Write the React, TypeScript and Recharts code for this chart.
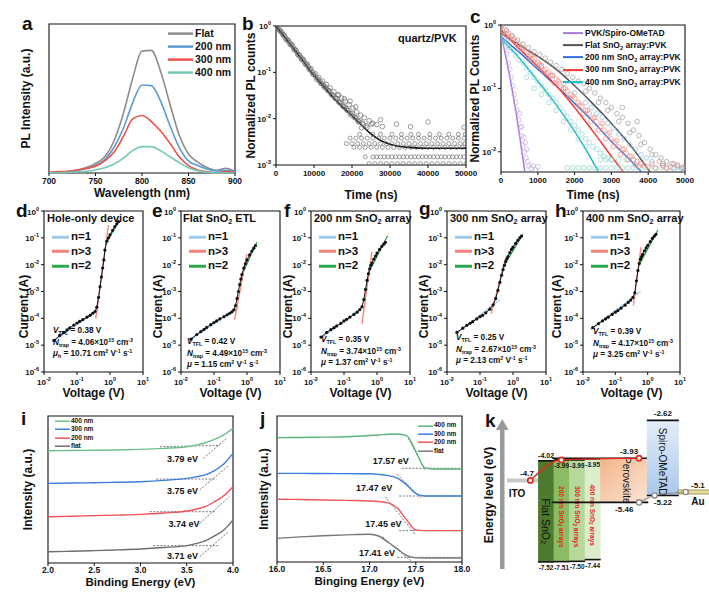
import React from "react";
import {
  ComposedChart,
  Line,
  Scatter,
  Bar,
  XAxis,
  YAxis,
  Legend,
  Label,
  ReferenceArea,
  ReferenceDot,
} from "recharts";

const FONT = '"Liberation Sans", Arial, Helvetica, sans-serif';
const INK = "#111";

// ---------- a: steady-state PL ----------
const wavelength = [700, 710, 720, 730, 740, 750, 760, 770, 780, 790, 800, 810, 820, 830, 840, 850, 860, 870, 880, 890, 900];
const plFlat = [0, 0.005, 0.01, 0.02, 0.04, 0.07, 0.12, 0.24, 0.44, 0.7, 0.9, 0.905, 0.75, 0.51, 0.28, 0.14, 0.08, 0.04, 0.02, 0.035, 0.01];
const pl200 = [0, 0.005, 0.01, 0.017, 0.033, 0.055, 0.1, 0.19, 0.33, 0.52, 0.65, 0.645, 0.53, 0.35, 0.19, 0.09, 0.055, 0.03, 0.015, 0.02, 0.01];
const pl300 = [0.005, 0.01, 0.013, 0.022, 0.033, 0.05, 0.09, 0.155, 0.27, 0.4, 0.425, 0.38, 0.31, 0.22, 0.12, 0.055, 0.022, 0.01, 0, 0.01, 0.005];
const pl400 = [0, 0.002, 0.005, 0.009, 0.013, 0.022, 0.038, 0.066, 0.11, 0.165, 0.195, 0.195, 0.165, 0.12, 0.077, 0.038, 0.016, 0.006, 0, 0, 0];
const aNames = ["Flat", "200 nm", "300 nm", "400 nm"];
const aTicks = [700, 750, 800, 850, 900];

// ---------- b: TRPL quartz/PVK ----------
const bFit = [[0, 1], [2500, 0.55], [5000, 0.3], [7500, 0.16], [10000, 0.086], [12500, 0.05], [15000, 0.029], [17500, 0.018], [20000, 0.0117], [22500, 0.0073], [25000, 0.0047], [27500, 0.0034], [30000, 0.0028], [32500, 0.0025], [35000, 0.0024], [40000, 0.0023], [45000, 0.0023], [50000, 0.0023]];
const bDecay = [
  [0, 1], [500, 0.9], [1000, 0.8], [1500, 0.72], [2000, 0.64], [2500, 0.55], [3000, 0.5], [3500, 0.44], [4000, 0.4], [4500, 0.35], [5000, 0.31], [5500, 0.27], [6000, 0.24], [6500, 0.21], [7000, 0.19], [7500, 0.165], [8000, 0.145], [8500, 0.13], [9000, 0.115], [9500, 0.1], [10000, 0.09], [10500, 0.08], [11000, 0.072], [11500, 0.064], [12000, 0.058], [12500, 0.052], [13000, 0.048], [13500, 0.042], [14000, 0.04], [14500, 0.034], [15000, 0.032], [15500, 0.028], [16000, 0.027], [16500, 0.023], [17000, 0.022], [17500, 0.019], [18000, 0.018], [18500, 0.016], [19000, 0.015], [19500, 0.013], [20000, 0.013], [20500, 0.011], [21000, 0.0105], [21500, 0.009], [22000, 0.009], [23000, 0.0075], [24000, 0.0065],
  [250, 0.93], [750, 0.82], [1250, 0.78], [1750, 0.66], [2250, 0.62], [2750, 0.5], [3250, 0.49], [3750, 0.4], [4250, 0.39], [4750, 0.31], [5250, 0.3], [5750, 0.24], [6250, 0.23], [6750, 0.19], [7250, 0.19], [7750, 0.15], [8250, 0.15], [8750, 0.115], [9250, 0.12], [9750, 0.09], [10250, 0.095], [10750, 0.07], [11250, 0.078], [11750, 0.058], [12250, 0.065], [12750, 0.048], [13250, 0.055], [13750, 0.04], [14250, 0.046], [14750, 0.032], [15250, 0.038], [15750, 0.027], [16250, 0.033], [16750, 0.022], [17250, 0.028], [17750, 0.018], [18250, 0.024], [18750, 0.015], [19250, 0.02], [19750, 0.012], [20250, 0.017], [20750, 0.0105], [21250, 0.014], [21750, 0.0085], [22250, 0.012], [22750, 0.008], [23250, 0.0105], [23750, 0.007], [24500, 0.009], [25500, 0.008], [26500, 0.0075], [28000, 0.0068],
  [16500, 0.032], [18000, 0.027], [19500, 0.024], [21000, 0.018], [25200, 0.0076], [27500, 0.0095], [31700, 0.0076], [35400, 0.0067], [40000, 0.0085], [49500, 0.0065], [22500, 0.0063],
];
const bFloorLevels = [0.0046, 0.0038, 0.0029, 0.0024, 0.0015, 0.00107];
const bFloorTimes = [
  [22000, 25500, 27500, 30500, 33000, 35500, 37500, 40500, 43000, 45500, 48000, 49800],
  [19500, 21000, 22500, 24000, 25500, 27000, 28500, 30000, 31500, 33000, 34500, 36000, 37500, 39000, 40500, 42000, 43500, 45000, 46500, 48000, 49500],
  [18500, 20000, 21500, 23000, 24500, 26000, 27500, 29000, 30500, 32000, 33500, 35000, 36500, 38000, 39500, 41000, 42500, 44000, 45500, 47000, 48500, 49800],
  [20500, 22000, 23500, 25000, 26500, 28000, 29500, 31000, 32500, 34000, 35500, 37000, 38500, 40000, 41500, 43000, 44500, 46000, 47500, 49000],
  [23500, 25500, 26500, 27500, 28500, 29500, 30500, 31500, 32500, 33500, 34500, 35500, 36500, 37500, 38500, 39500, 40500, 41500, 42500, 43500, 44500, 45500, 46500, 47500, 48500, 49500],
  [24500, 26000, 27500, 29000, 30500, 32000, 33500, 35000, 36500, 38000, 39500, 41000, 42500, 44000, 45500, 47000, 48500, 50000],
];
const bTimeTicks = [0, 10000, 20000, 30000, 40000, 50000];
const bCountTicks = [0.001, 0.01, 0.1, 1];

// ---------- c: TRPL with transport layers ----------
const cNames = ["PVK/Spiro-OMeTAD", "Flat SnO2 array:PVK", "200 nm SnO2 array:PVK", "300 nm SnO2 array:PVK", "400 nm SnO2 array:PVK"];
const cSpiroFit = [[0, 0.72], [200, 0.2], [400, 0.045], [600, 0.0075], [650, 0.0048]];
const cFlatFit = [[0, 0.74], [500, 0.48], [1000, 0.32], [1500, 0.2], [2000, 0.11], [2500, 0.057], [3000, 0.028], [3500, 0.013], [4050, 0.0048]];
const c200Fit = [[0, 0.65], [500, 0.37], [1000, 0.2], [1500, 0.11], [2000, 0.058], [2500, 0.03], [3000, 0.0145], [3500, 0.0075], [3820, 0.0048]];
const c300Fit = [[0, 0.83], [500, 0.42], [1000, 0.22], [1500, 0.11], [2000, 0.05], [2500, 0.021], [3000, 0.0085], [3325, 0.0048]];
const c400Fit = [[0, 0.6], [500, 0.3], [1000, 0.13], [1500, 0.055], [2000, 0.021], [2300, 0.011], [2650, 0.0048]];
const cSpiroDots = [[0, 1], [40, 0.75], [80, 0.6], [120, 0.45], [160, 0.35], [200, 0.25], [240, 0.2], [280, 0.15], [320, 0.11], [360, 0.08], [400, 0.06], [440, 0.045], [480, 0.032], [520, 0.024], [560, 0.018], [600, 0.013], [640, 0.01], [680, 0.008], [720, 0.007], [760, 0.006], [820, 0.0055], [880, 0.006], [940, 0.0052], [1000, 0.0058], [500, 0.04], [560, 0.025], [620, 0.017], [700, 0.011], [660, 0.014]];
const cFlatDots = [[0, 1], [150, 0.82], [300, 0.68], [450, 0.58], [600, 0.5], [750, 0.44], [900, 0.38], [1050, 0.34], [1200, 0.3], [1350, 0.26], [1500, 0.23], [1650, 0.2], [1800, 0.17], [1950, 0.15], [2100, 0.13], [2250, 0.12], [2400, 0.1], [2550, 0.085], [2700, 0.07], [2850, 0.06], [3000, 0.05], [3150, 0.04], [3300, 0.035], [3450, 0.028], [3600, 0.022], [3750, 0.018], [3900, 0.014], [4050, 0.011], [4200, 0.009], [4350, 0.008], [4500, 0.007], [4650, 0.0065], [4800, 0.006], [4950, 0.0055], [2300, 0.09], [2650, 0.06], [2900, 0.045], [3200, 0.03], [3500, 0.02], [3800, 0.013], [4100, 0.009], [4400, 0.0065], [3300, 0.05], [3700, 0.03]];
const c200Dots = [[200, 0.6], [500, 0.42], [800, 0.3], [1100, 0.22], [1400, 0.16], [1700, 0.12], [2000, 0.085], [2300, 0.06], [2600, 0.04], [2900, 0.028], [3200, 0.019], [3500, 0.013], [3800, 0.009], [4100, 0.007], [4400, 0.006], [4700, 0.0055], [5000, 0.0052], [2450, 0.05], [2750, 0.035], [3050, 0.024], [3350, 0.016], [3650, 0.011], [3950, 0.008]];
const c300Dots = [[0, 0.95], [100, 0.85], [200, 0.75], [300, 0.65], [400, 0.55], [500, 0.5], [600, 0.44], [700, 0.38], [800, 0.33], [900, 0.3], [1000, 0.26], [1100, 0.23], [1200, 0.2], [1300, 0.18], [1400, 0.16], [1500, 0.14], [1600, 0.12], [1700, 0.1], [1800, 0.09], [1900, 0.08], [2000, 0.07], [2100, 0.06], [2200, 0.052], [2300, 0.045], [2400, 0.04], [2500, 0.034], [2600, 0.03], [2700, 0.025], [2800, 0.022], [2900, 0.019], [3000, 0.016], [3100, 0.014], [3200, 0.012], [3300, 0.011], [3400, 0.0095], [3500, 0.0085], [3600, 0.0075], [3700, 0.007], [3800, 0.0065], [3900, 0.006], [4000, 0.0058], [4200, 0.0055], [4400, 0.006], [4600, 0.0058], [4800, 0.0062], [5000, 0.006],
  [50, 0.8], [150, 0.72], [250, 0.62], [350, 0.6], [450, 0.48], [550, 0.42], [650, 0.4], [750, 0.32], [850, 0.3], [950, 0.25], [1050, 0.24], [1150, 0.19], [1250, 0.17], [1350, 0.16], [1450, 0.12], [1550, 0.13], [1650, 0.095], [1750, 0.1], [1850, 0.07], [1950, 0.075], [2050, 0.05], [2150, 0.055], [2250, 0.04], [2350, 0.045], [2450, 0.03], [2550, 0.035], [2650, 0.022], [2750, 0.028], [2850, 0.016], [2950, 0.02], [3050, 0.012], [3150, 0.015], [3250, 0.009], [3350, 0.011], [3450, 0.0075], [3550, 0.0085], [3650, 0.0062], [3750, 0.006], [4100, 0.0065], [4300, 0.007], [4500, 0.0055], [4700, 0.0065], [4900, 0.0055]];
const c400Dots = [[0, 0.7], [100, 0.55], [200, 0.45], [300, 0.4], [400, 0.33], [500, 0.28], [600, 0.25], [700, 0.21], [800, 0.18], [900, 0.15], [1000, 0.13], [1100, 0.11], [1200, 0.095], [1300, 0.08], [1400, 0.07], [1500, 0.06], [1600, 0.05], [1700, 0.042], [1800, 0.036], [1900, 0.03], [2000, 0.026], [2100, 0.022], [2200, 0.019], [2300, 0.016], [2400, 0.014], [2500, 0.012], [2600, 0.011], [2700, 0.0095], [2800, 0.0085], [2900, 0.008], [3000, 0.0075],
  [700, 0.15], [900, 0.1], [1100, 0.08], [1300, 0.06], [1500, 0.045], [1700, 0.03], [1900, 0.022], [2100, 0.016], [2300, 0.012],
  [1800, 0.0056], [1950, 0.0056], [2100, 0.0056], [2250, 0.0056], [2400, 0.0056], [2550, 0.0056], [2700, 0.0056], [2850, 0.0056], [3000, 0.0056], [3150, 0.0056], [3300, 0.0056], [3450, 0.0056], [3600, 0.0056], [3750, 0.0056], [3900, 0.0056], [4050, 0.0056], [4200, 0.0056], [4350, 0.0056], [4500, 0.0056], [4650, 0.0056], [4800, 0.0056], [4950, 0.0056],
  [2700, 0.0075], [2850, 0.0075], [3000, 0.0075], [3200, 0.0075], [3400, 0.0075], [3600, 0.0075]];
const cTimeTicks = [0, 1000, 2000, 3000, 4000, 5000];
const cCountTicks = [0.01, 0.1, 1];

// ---------- d-h: SCLC J-V ----------
const jvVolt = [0.02, 0.03, 0.04, 0.05, 0.06, 0.08, 0.1, 0.12, 0.15, 0.2, 0.25, 0.3, 0.35, 0.4, 0.45, 0.5, 0.55, 0.6, 0.65, 0.7, 0.8, 0.9, 1.0, 1.2, 1.4, 1.6, 1.8];
const dCurrent = [1.5e-5, 2.3e-5, 3e-5, 3.7e-5, 4.4e-5, 5.6e-5, 6.7e-5, 7.7e-5, 9e-5, 1.1e-4, 1.3e-4, 1.55e-4, 1.8e-4, 2.6e-4, 6e-4, 1.5e-3, 3.5e-3, 7.5e-3, 1.5e-2, 3.5e-2, 7.5e-2, 1e-1, 1.3e-1, 1.9e-1, 2.6e-1, 3.3e-1, 4e-1];
const eCurrent = [1.7e-5, 2.5e-5, 3.2e-5, 3.9e-5, 4.6e-5, 5.8e-5, 7e-5, 8e-5, 9.5e-5, 1.15e-4, 1.35e-4, 1.55e-4, 1.75e-4, 2.05e-4, 3e-4, 5.5e-4, 1e-3, 1.8e-3, 2.9e-3, 4.3e-3, 7.5e-3, 1.1e-2, 1.5e-2, 2.3e-2, 3.2e-2, 4.1e-2, 5.1e-2];
const fCurrent = [2e-5, 3e-5, 3.8e-5, 4.5e-5, 5.2e-5, 6.5e-5, 8e-5, 9.2e-5, 1.1e-4, 1.4e-4, 1.7e-4, 2.1e-4, 2.7e-4, 5e-4, 1.2e-3, 2.6e-3, 4.6e-3, 7e-3, 9.5e-3, 1.15e-2, 1.6e-2, 2.1e-2, 2.7e-2, 3.7e-2, 4.8e-2, 5.8e-2, 6.8e-2];
const gCurrent = [3e-5, 4.3e-5, 5.5e-5, 6.5e-5, 7.5e-5, 9.5e-5, 1.15e-4, 1.3e-4, 1.6e-4, 2.2e-4, 3.2e-4, 5.5e-4, 1.1e-3, 2.2e-3, 4e-3, 6.5e-3, 9.5e-3, 1.3e-2, 1.65e-2, 2e-2, 2.8e-2, 3.7e-2, 4.5e-2, 6.2e-2, 8e-2, 1e-1, 1.15e-1];
const hCurrent = [4.5e-5, 6.3e-5, 8e-5, 9.5e-5, 1.1e-4, 1.4e-4, 1.7e-4, 1.95e-4, 2.4e-4, 3.1e-4, 3.9e-4, 4.8e-4, 6e-4, 9e-4, 2.5e-3, 6e-3, 1.1e-2, 1.6e-2, 2e-2, 2.4e-2, 3.3e-2, 4.2e-2, 5.2e-2, 7.2e-2, 9.5e-2, 1.15e-1, 1.35e-1];
const dFitN1 = [[0.018, 1.35e-5], [0.45, 2.1e-4]];
const dFitN3 = [[0.37, 1e-4], [0.9, 0.3]];
const dFitN2 = [[0.72, 0.055], [1.8, 0.4]];
const eFitN1 = [[0.018, 1.5e-5], [0.55, 2.6e-4]];
const eFitN3 = [[0.42, 9e-5], [1.0, 2.5e-2]];
const eFitN2 = [[0.8, 6e-3], [2.0, 7e-2]];
const fFitN1 = [[0.02, 1.8e-5], [0.42, 2.8e-4]];
const fFitN3 = [[0.35, 6e-5], [0.7, 3e-2]];
const fFitN2 = [[0.6, 6e-3], [2.1, 0.12]];
const gFitN1 = [[0.018, 2.5e-5], [0.4, 5e-4]];
const gFitN3 = [[0.22, 1.5e-4], [0.6, 1.8e-2]];
const gFitN2 = [[0.5, 8e-3], [2.0, 0.14]];
const hFitN1 = [[0.017, 3.8e-5], [0.6, 1e-3]];
const hFitN3 = [[0.36, 3e-4], [0.62, 4.5e-2]];
const hFitN2 = [[0.55, 1e-2], [2.1, 0.2]];
const jvNames = ["n=1", "n>3", "n=2"];
const jvTitles = ["Hole-only device", "Flat SnO2 ETL", "200 nm SnO2 array", "300 nm SnO2 array", "400 nm SnO2 array"];
const jvVtfl = ["0.38", "0.42", "0.35", "0.25", "0.39"];
const jvNtrap = ["4.06", "4.49", "3.74", "2.67", "4.17"];
const jvMu = ["10.71", "1.15", "1.37", "2.13", "3.25"];
const jvVTicks = [0.01, 0.1, 1, 10];
const jvITicks = [1e-6, 1e-5, 1e-4, 1e-3, 1e-2, 1e-1, 1];

// ---------- i: UPS cut-on ----------
const upsNames = ["400 nm", "300 nm", "200 nm", "flat"];
const iEnergy = [2.0, 2.25, 2.5, 2.75, 3.0, 3.25, 3.5, 3.6, 3.7, 3.8, 3.9, 4.0];
const i400 = [0.764, 0.765, 0.767, 0.769, 0.773, 0.78, 0.791, 0.802, 0.818, 0.841, 0.871, 0.916];
const i300 = [0.542, 0.544, 0.546, 0.549, 0.553, 0.562, 0.576, 0.586, 0.599, 0.628, 0.673, 0.746];
const i200 = [0.315, 0.318, 0.322, 0.326, 0.331, 0.34, 0.354, 0.366, 0.383, 0.417, 0.458, 0.519];
const iFlat = [0.077, 0.08, 0.084, 0.089, 0.095, 0.105, 0.118, 0.132, 0.15, 0.184, 0.224, 0.293];
const iGuides = [
  [[3.21, 0.791], [3.86, 0.8]], [[3.68, 0.712], [3.93, 0.848]],
  [[3.17, 0.571], [3.82, 0.571]], [[3.64, 0.497], [3.96, 0.667]],
  [[3.1, 0.349], [3.82, 0.349]], [[3.64, 0.27], [3.96, 0.451]],
  [[3.14, 0.118], [3.84, 0.118]], [[3.64, 0.043], [3.95, 0.213]],
];
const iOnsets = ["3.79 eV", "3.75 eV", "3.74 eV", "3.71 eV"];
const iOnsetAt = [[3.454, 0.707], [3.454, 0.49], [3.47, 0.265], [3.454, 0.051]];
const iTicks = [2.0, 2.5, 3.0, 3.5, 4.0];

// ---------- j: UPS cut-off ----------
const jEnergy = [16.0, 16.25, 16.5, 16.75, 17.0, 17.1, 17.2, 17.3, 17.4, 17.5, 17.6, 17.7, 17.85, 18.0];
const j400 = [0.852, 0.853, 0.855, 0.858, 0.866, 0.87, 0.875, 0.877, 0.865, 0.76, 0.645, 0.637, 0.637, 0.637];
const j300 = [0.607, 0.607, 0.606, 0.605, 0.604, 0.6, 0.592, 0.575, 0.53, 0.47, 0.452, 0.452, 0.452, 0.452];
const j200 = [0.43, 0.428, 0.425, 0.422, 0.418, 0.414, 0.405, 0.37, 0.29, 0.22, 0.215, 0.215, 0.215, 0.215];
const jFlat = [0.162, 0.172, 0.18, 0.186, 0.19, 0.178, 0.135, 0.09, 0.045, 0.028, 0.027, 0.027, 0.027, 0.027];
const jGuides = [
  [[17.35, 0.642], [17.99, 0.642]], [[17.42, 0.847], [17.6, 0.63]],
  [[17.32, 0.452], [18.0, 0.452]], [[17.3, 0.6], [17.55, 0.44]],
  [[17.32, 0.215], [18.0, 0.215]], [[17.17, 0.447], [17.5, 0.185]],
  [[17.3, 0.032], [18.0, 0.032]], [[17.14, 0.173], [17.46, 0.002]],
];
const jOnsets = ["17.57 eV", "17.47 eV", "17.45 eV", "17.41 eV"];
const jOnsetAt = [[17.23, 0.694], [17.05, 0.507], [17.15, 0.26], [17.08, 0.066]];
const jTicks = [16.0, 16.5, 17.0, 17.5, 18.0];

// ---------- k: energy levels ----------
const kLayers = ["ITO", "Flat SnO2", "200 nm SnO2 arrays", "300 nm SnO2 arrays", "400 nm SnO2 arrays", "Perovskite", "Spiro-OMeTAD", "Au"];
const kTop = [-4.7, -4.02, -3.99, -3.99, -3.95, -3.93, -2.62, -5.1];
const kBottom = [-4.7, -7.52, -7.51, -7.5, -7.44, -5.46, -5.22, -5.1];

// ---------- helpers ----------
const toXY = (pts: number[][]) => pts.map(([x, y]) => ({ x, y }));
const tickFont = { fontSize: 8.5, fontWeight: "bold", fill: INK, fontFamily: FONT };

const xTitle = (text: string, dist: number, size = 12) => (p: any) => {
  const vb = p.viewBox || {};
  return (
    <text x={vb.x + vb.width / 2} y={vb.y + dist} textAnchor="middle" fontSize={size} fontWeight="bold" fontFamily={FONT} fill={INK}>
      {text}
    </text>
  );
};
const yTitle = (text: string, dist: number, shift = 0, size = 12) => (p: any) => {
  const vb = p.viewBox || {};
  const cx = vb.x + vb.width - dist;
  const cy = vb.y + vb.height / 2 + shift;
  return (
    <text transform={`translate(${cx},${cy}) rotate(-90)`} textAnchor="middle" dominantBaseline="central" fontSize={size} fontWeight="bold" fontFamily={FONT} fill={INK}>
      {text}
    </text>
  );
};

const PowTickY = (p: any) => {
  const e = Math.round(Math.log10(p.payload.value));
  return (
    <text x={p.x} y={p.y} dy={3} textAnchor="end" fontSize={8} fontWeight="bold" fontFamily={FONT} fill={INK}>
      10<tspan dy={-4} fontSize={5.5}>{e}</tspan>
    </text>
  );
};
const PowTickX = (p: any) => {
  const e = Math.round(Math.log10(p.payload.value));
  return (
    <text x={p.x} y={p.y} dy={8} textAnchor="middle" fontSize={8} fontWeight="bold" fontFamily={FONT} fill={INK}>
      10<tspan dy={-4} fontSize={5.5}>{e}</tspan>
    </text>
  );
};

const subStyle: React.CSSProperties = { fontSize: "0.65em", verticalAlign: "-0.3em", lineHeight: 0 };
const supStyle: React.CSSProperties = { fontSize: "0.65em", verticalAlign: "0.5em", lineHeight: 0 };
const chem = (s: string) => {
  const parts = s.split("SnO2");
  const out: React.ReactNode[] = [];
  parts.forEach((p, k) => {
    if (k > 0) out.push(<span key={"s" + k}>SnO<sub style={subStyle}>2</sub></span>);
    out.push(<span key={"t" + k}>{p}</span>);
  });
  return out;
};
const svgChem = (s: string) => {
  const parts = s.split("SnO2");
  if (parts.length < 2) return s;
  return (
    <>
      {parts[0]}SnO<tspan dy={2} fontSize="70%">2</tspan>
      <tspan dy={-2}>{parts[1]}</tspan>
    </>
  );
};

// legend rows in a fixed order, only the named series
const legendBox = (o: { order: string[]; row: number; line: number; sw: number; font: number; gap?: number }) => (props: any) => {
  const items = o.order.map((name) => (props.payload || []).find((p: any) => p.value === name)).filter(Boolean);
  return (
    <div style={{ fontFamily: FONT, fontWeight: "bold", fontSize: o.font, color: INK }}>
      {items.map((p: any) => (
        <div key={p.value} style={{ display: "flex", alignItems: "center", height: o.row, whiteSpace: "nowrap" }}>
          <svg width={o.line} height={o.row} style={{ display: "block" }}>
            <line x1={0} x2={o.line} y1={o.row / 2} y2={o.row / 2} stroke={p.color} strokeWidth={o.sw} />
          </svg>
          <span style={{ marginLeft: o.gap ?? 2, lineHeight: 1 }}>{chem(String(p.value))}</span>
        </div>
      ))}
    </div>
  );
};

const ring = (color: string, r = 2.2) => (p: any) =>
  p.cx == null ? <g /> : <circle cx={p.cx} cy={p.cy} r={r} fill="none" stroke={color} strokeWidth={0.7} />;
const blackDot = (p: any) => (p.cx == null ? <g /> : <circle cx={p.cx} cy={p.cy} r={1.6} fill={INK} />);

const frame = (x1: number, x2: number, y1: number, y2: number) => (
  <ReferenceArea x1={x1} x2={x2} y1={y1} y2={y2} fill="none" stroke={INK} strokeWidth={1.1} ifOverflow="visible" />
);

// HTML text placed by baseline
const Txt = ({ left, base, size, children, style }: any) => (
  <div style={{ position: "absolute", left, top: base - 0.83 * size, fontSize: size, lineHeight: `${size}px`, fontFamily: FONT, fontWeight: "bold", color: INK, whiteSpace: "nowrap", ...style }}>
    {children}
  </div>
);

// ---------- panels ----------
function PanelA() {
  const data = wavelength.map((x, k) => ({ x, flat: plFlat[k], n200: pl200[k], n300: pl300[k], n400: pl400[k] }));
  return (
    <div style={{ position: "absolute", left: 0, top: 14 }}>
      <ComposedChart width={245} height={189} data={data} margin={{ top: 10, right: 10, left: 0, bottom: 0 }}>
        <XAxis dataKey="x" type="number" domain={[700, 900]} ticks={aTicks} allowDataOverflow height={30} axisLine={false} tickSize={3} tickLine={{ stroke: INK }} tick={tickFont}>
          <Label content={xTitle("Wavelength (nm)", 24)} />
        </XAxis>
        <YAxis type="number" domain={[0, 1.1]} ticks={[0, 0.1, 0.2, 0.3, 0.4, 0.5, 0.6, 0.7, 0.8, 0.9, 1.0]} width={49} axisLine={false} tick={false} tickSize={3} tickLine={{ stroke: INK }}>
          <Label content={yTitle("PL Intensity (a.u.)", 23)} />
        </YAxis>
        <Line dataKey="flat" name={aNames[0]} type="monotone" stroke="#8c8c8c" strokeWidth={1.6} dot={false} isAnimationActive={false} />
        <Line dataKey="n200" name={aNames[1]} type="monotone" stroke="#5b9bd5" strokeWidth={1.6} dot={false} isAnimationActive={false} />
        <Line dataKey="n300" name={aNames[2]} type="monotone" stroke="#f0504a" strokeWidth={1.6} dot={false} isAnimationActive={false} />
        <Line dataKey="n400" name={aNames[3]} type="monotone" stroke="#74c9b5" strokeWidth={1.6} dot={false} isAnimationActive={false} />
        {frame(700, 900, 0, 1.1)}
        <Legend layout="vertical" align="center" verticalAlign="middle" wrapperStyle={{ left: 168, top: 12.5, width: "auto" }} content={legendBox({ order: aNames, row: 13.2, line: 25, sw: 2.5, font: 10.5 })} />
      </ComposedChart>
    </div>
  );
}

function PanelB() {
  const floor = bFloorLevels.flatMap((lv, k) => bFloorTimes[k].map((t) => ({ x: t, y: lv })));
  return (
    <div style={{ position: "absolute", left: 236, top: 16 }}>
      <ComposedChart width={242} height={187} margin={{ top: 10, right: 12, left: 0, bottom: 0 }}>
        <XAxis dataKey="x" type="number" domain={[0, 50000]} ticks={bTimeTicks} allowDataOverflow height={38} axisLine={false} tickSize={3} tickLine={{ stroke: INK }} tick={{ ...tickFont, fontSize: 8 }}>
          <Label content={xTitle("Time (ns)", 34)} />
        </XAxis>
        <YAxis dataKey="y" type="number" scale="log" domain={[0.001, 1]} ticks={bCountTicks} allowDataOverflow width={40} axisLine={false} tickSize={3} tickLine={{ stroke: INK }} tick={PowTickY}>
          <Label content={yTitle("Normalized PL counts", 25)} />
        </YAxis>
        <Scatter data={toXY(bDecay)} shape={ring("#707070", 2.3)} legendType="none" isAnimationActive={false} />
        <Scatter data={floor} shape={ring("#707070", 2)} legendType="none" isAnimationActive={false} />
        <Line data={toXY(bFit)} dataKey="y" type="monotone" stroke="#000" strokeWidth={1.6} dot={false} legendType="none" isAnimationActive={false} />
        {frame(0, 50000, 0.001, 1)}
      </ComposedChart>
    </div>
  );
}

function PanelC() {
  const fits = [cSpiroFit, cFlatFit, c200Fit, c300Fit, c400Fit];
  const dots = [cSpiroDots, c400Dots, c200Dots, c300Dots, cFlatDots];
  const dotColors = ["#c6abea", "#8fd6c9", "#8cbbe9", "#f28b82", "#9c9c9c"];
  const lineColors = ["#a77ad8", "#555555", "#2f6fe0", "#ee3b30", "#1cb8c4"];
  return (
    <div style={{ position: "absolute", left: 466, top: 15 }}>
      <ComposedChart width={239} height={189} margin={{ top: 10, right: 20, left: 0, bottom: 0 }}>
        <XAxis dataKey="x" type="number" domain={[0, 5000]} ticks={cTimeTicks} allowDataOverflow height={32} axisLine={false} tickSize={3} tickLine={{ stroke: INK }} tick={{ ...tickFont, fontSize: 8 }}>
          <Label content={xTitle("Time (ns)", 27)} />
        </XAxis>
        <YAxis dataKey="y" type="number" scale="log" domain={[0.0048, 1]} ticks={cCountTicks} allowDataOverflow width={35} axisLine={false} tickSize={3} tickLine={{ stroke: INK }} tick={PowTickY}>
          <Label content={yTitle("Normalized PL Counts", 26)} />
        </YAxis>
        {dots.map((d, k) => (
          <Scatter key={"d" + k} data={toXY(d)} shape={ring(dotColors[k], 2.3)} legendType="none" isAnimationActive={false} />
        ))}
        {fits.map((f, k) => (
          <Line key={"f" + k} data={toXY(f)} dataKey="y" name={cNames[k]} type="monotone" stroke={lineColors[k]} strokeWidth={1.5} dot={false} isAnimationActive={false} />
        ))}
        {frame(0, 5000, 0.0048, 1)}
        <Legend layout="vertical" align="center" verticalAlign="middle" wrapperStyle={{ left: 97, top: 12, width: "auto" }} content={legendBox({ order: cNames, row: 12.2, line: 20, sw: 2, font: 8.5 })} />
      </ComposedChart>
    </div>
  );
}

const JV_T = 211;
const JV_B = 372;
function JVChart({ left, right, current, fitN1, fitN3, fitN2, yDist }: any) {
  const pl = 38, pt = 8, pr = 10, pb = 30;
  const data = jvVolt.map((v, k) => ({ x: v, y: current[k] }));
  return (
    <div style={{ position: "absolute", left: left - pl, top: JV_T - pt }}>
      <ComposedChart width={right - left + pl + pr} height={JV_B - JV_T + pt + pb} margin={{ top: pt, right: pr, left: 0, bottom: 0 }}>
        <XAxis dataKey="x" type="number" scale="log" domain={[0.01, 10]} ticks={jvVTicks} allowDataOverflow height={pb} axisLine={false} tickSize={3} tickLine={{ stroke: INK }} tick={PowTickX}>
          <Label content={xTitle("Voltage (V)", 25)} />
        </XAxis>
        <YAxis dataKey="y" type="number" scale="log" domain={[1e-6, 1]} ticks={jvITicks} allowDataOverflow width={pl} axisLine={false} tickSize={3} tickLine={{ stroke: INK }} tick={PowTickY}>
          <Label content={yTitle("Current (A)", yDist, 15)} />
        </YAxis>
        <Scatter data={data} shape={blackDot} line={{ stroke: INK, strokeWidth: 1 }} legendType="none" isAnimationActive={false} />
        <Line data={toXY(fitN1)} dataKey="y" name={jvNames[0]} stroke="#9fcbec" strokeWidth={1.3} dot={false} isAnimationActive={false} />
        <Line data={toXY(fitN3)} dataKey="y" name={jvNames[1]} stroke="#f4837a" strokeWidth={1.3} dot={false} isAnimationActive={false} />
        <Line data={toXY(fitN2)} dataKey="y" name={jvNames[2]} stroke="#2ea84c" strokeWidth={1.3} dot={false} isAnimationActive={false} />
        {frame(0.01, 10, 1e-6, 1)}
        <Legend layout="vertical" align="center" verticalAlign="middle" wrapperStyle={{ left: pl + 8, top: 26.5, width: "auto" }} content={legendBox({ order: jvNames, row: 14.5, line: 17, sw: 3, font: 11.5 })} />
      </ComposedChart>
    </div>
  );
}

function UPSChart({ box, x, domain, ticks, series, colors, guides, onsets, onsetAt, xLabel, yDist, legendAt, yTicks }: any) {
  const [L, T, R, B, pl] = box;
  const pt = 8, pr = 12, pb = 30;
  const data = x.map((v: number, k: number) => ({ x: v, s0: series[0][k], s1: series[1][k], s2: series[2][k], s3: series[3][k] }));
  return (
    <div style={{ position: "absolute", left: L - pl, top: T - pt }}>
      <ComposedChart width={R - L + pl + pr} height={B - T + pt + pb} data={data} margin={{ top: pt, right: pr, left: 0, bottom: 0 }}>
        <XAxis dataKey="x" type="number" domain={domain} ticks={ticks} allowDataOverflow height={pb} axisLine={false} tickSize={3} tickMargin={1} tickLine={{ stroke: INK }} tick={tickFont} tickFormatter={(v: number) => v.toFixed(1)}>
          <Label content={xTitle(xLabel, 23, 11.5)} />
        </XAxis>
        <YAxis dataKey="y" type="number" domain={[0, 1]} ticks={yTicks} allowDataOverflow width={pl} axisLine={false} tick={false} tickSize={3} tickLine={{ stroke: INK }}>
          <Label content={yTitle("Intensity (a.u.)", yDist)} />
        </YAxis>
        {guides.map((g: number[][], k: number) => (
          <Line key={"g" + k} data={toXY(g)} dataKey="y" stroke="#555" strokeWidth={0.8} strokeDasharray="2 1.5" dot={false} legendType="none" isAnimationActive={false} />
        ))}
        {[0, 1, 2, 3].map((k) => (
          <Line key={"s" + k} dataKey={"s" + k} name={upsNames[k]} type="monotone" stroke={colors[k]} strokeWidth={1.4} dot={false} isAnimationActive={false} />
        ))}
        {onsets.map((t: string, k: number) => (
          <ReferenceDot key={"o" + k} x={onsetAt[k][0]} y={onsetAt[k][1]} r={0} fill="none" stroke="none" label={{ value: t, position: "center", fontSize: 9, fontWeight: "bold", fill: INK, fontFamily: FONT }} />
        ))}
        {frame(domain[0], domain[1], 0, 1)}
        <Legend layout="vertical" align="center" verticalAlign="middle" wrapperStyle={{ left: legendAt[0], top: legendAt[1], width: "auto" }} content={legendBox({ order: upsNames, row: 8.4, line: 15, sw: 1.5, font: 6.5, gap: 1 })} />
      </ComposedChart>
    </div>
  );
}

const kFill = ["#c8c8c8", "#4d7a2f", "#8cbc62", "#b6d89b", "#dcedcc", "url(#kPvk)", "url(#kSpiro)", "#e8dca3"];
const numStyle = { fontSize: 7, fontWeight: "bold", fill: INK, fontFamily: FONT } as any;

function LayerShape(props: any) {
  const { x, y, width, height, payload } = props;
  if (!payload || !payload.first || x == null) return <g />;
  const i = payload.layer;
  const w = width * payload.span;
  const top = Math.min(y, y + height);
  const bot = Math.max(y, y + height);
  const cx = x + w / 2;
  const midY = (top + bot) / 2;
  const rot = (tx: number, ty: number, size: number, color: string, text: string, weight = "normal") => (
    <text transform={`translate(${tx},${ty}) rotate(90)`} textAnchor="middle" dominantBaseline="central" fontSize={size} fontWeight={weight} fill={color} fontFamily={FONT}>
      {svgChem(text)}
    </text>
  );
  if (i === 0) {
    return (
      <g>
        <rect x={x} y={top - 2} width={w} height={4} fill={kFill[0]} />
        <text x={x + w - 5} y={top - 4} textAnchor="end" {...numStyle} fontSize={8}>{String(kTop[0])}</text>
        <text x={cx - 6} y={top + 17} textAnchor="middle" fontSize={10} fontWeight="bold" fill={INK} fontFamily={FONT}>{kLayers[0]}</text>
      </g>
    );
  }
  if (i === 7) {
    return (
      <g>
        <rect x={x} y={top - 2} width={w} height={4} fill={kFill[7]} stroke="#8f7d2c" strokeWidth={0.8} />
        <text x={cx + 4} y={top - 4} textAnchor="middle" {...numStyle} fontSize={8}>{String(kTop[7])}</text>
        <text x={cx + 4} y={top + 13} textAnchor="middle" fontSize={10} fontWeight="bold" fill={INK} fontFamily={FONT}>{kLayers[7]}</text>
      </g>
    );
  }
  const extend = i === 5 ? 3 * width : 0;
  return (
    <g>
      <rect x={x} y={top} width={w} height={bot - top} fill={kFill[i]} />
      <line x1={x - extend} x2={x + w} y1={top} y2={top} stroke={INK} strokeWidth={1.6} />
      <line x1={x - extend} x2={x + w} y1={bot} y2={bot} stroke={INK} strokeWidth={1.6} />
      {i === 1 && <text x={cx} y={top - 3} textAnchor="middle" {...numStyle}>{kTop[i].toFixed(2)}</text>}
      {i >= 2 && i <= 4 && <text x={cx} y={top + 8} textAnchor="middle" {...numStyle} fontSize={6.5}>{kTop[i].toFixed(2)}</text>}
      {i === 5 && <text x={x + w * 0.6} y={top - 4} textAnchor="middle" {...numStyle} fontSize={8}>{kTop[i].toFixed(2)}</text>}
      {i === 6 && <text x={cx} y={top - 4} textAnchor="middle" {...numStyle} fontSize={8}>{kTop[i].toFixed(2)}</text>}
      <text x={cx} y={bot + (i >= 5 ? 10 : 8)} textAnchor="middle" {...numStyle} fontSize={i >= 5 ? 8 : 6.5}>{kBottom[i].toFixed(2)}</text>
      {i === 1 && rot(cx, midY + 10, 10.5, INK, kLayers[i])}
      {i >= 2 && i <= 4 && rot(cx, midY + 6, 6.5, "#e3261b", kLayers[i], "bold")}
      {i === 5 && rot(x + w * 0.55, midY, 10, INK, kLayers[i])}
      {i === 6 && rot(cx, top + (bot - top) * 0.55, 10, INK, kLayers[i])}
    </g>
  );
}

function PanelK() {
  const SPAN = [2, 1, 1, 1, 1, 3, 2, 2];
  const rows: any[] = kLayers.flatMap((_, i) =>
    Array.from({ length: SPAN[i] }, (_, j) => ({ slot: `${i}-${j}`, layer: i, first: j === 0, span: SPAN[i], range: [kBottom[i], kTop[i]] }))
  );
  const mark = (key: string, layer: number, j: number, v: number) => {
    const r = rows.find((q) => q.slot === `${layer}-${j}`);
    if (r) r[key] = v;
  };
  mark("e", 0, 1, kTop[0]);
  mark("e", 2, 0, kTop[2]);
  mark("e", 5, 2, kTop[5]);
  mark("h", 5, 2, kBottom[5]);
  mark("h", 6, 0, kBottom[6]);
  mark("h", 7, 0, kBottom[7]);
  return (
    <div style={{ position: "absolute", left: 472, top: 400 }}>
      <ComposedChart width={237} height={199} data={rows} margin={{ top: 14, right: 0, left: 0, bottom: 29 }} barCategoryGap={0} barGap={0}>
        <defs>
          <linearGradient id="kPvk" x1="0" y1="0" x2="1" y2="1">
            <stop offset="0" stopColor="#f2b48a" />
            <stop offset="1" stopColor="#fbe6d6" />
          </linearGradient>
          <linearGradient id="kSpiro" x1="0" y1="0" x2="0" y2="1">
            <stop offset="0" stopColor="#e3edf9" />
            <stop offset="1" stopColor="#a9c8ec" />
          </linearGradient>
        </defs>
        <XAxis dataKey="slot" type="category" hide padding={{ left: 5, right: 0 }} />
        <YAxis type="number" domain={[-7.8, -2.4]} width={30} tick={false} tickLine={false} axisLine={false}>
          <Label content={yTitle("Energy level (eV)", 13, 3, 12)} />
        </YAxis>
        <Bar dataKey="range" shape={LayerShape} isAnimationActive={false} />
        <Line dataKey="e" type="monotone" connectNulls stroke="#e3261b" strokeWidth={1.3} dot={{ r: 2.6, fill: "#fff", stroke: "#e3261b", strokeWidth: 1.6 }} isAnimationActive={false} />
        <Line dataKey="h" type="monotone" connectNulls stroke="#8a8a8a" strokeWidth={1.1} dot={{ r: 2.6, fill: "#fff", stroke: "#8a8a8a", strokeWidth: 1.4 }} isAnimationActive={false} />
      </ComposedChart>
    </div>
  );
}

function JVNotes({ left, top, k }: any) {
  return (
    <div style={{ position: "absolute", left, top, fontFamily: FONT, fontWeight: "bold", fontSize: 8.2, lineHeight: "11.5px", color: INK, whiteSpace: "nowrap" }}>
      <div>
        <i>V</i>
        <sub style={subStyle}>TFL</sub> = {jvVtfl[k]} V
      </div>
      <div>
        <i>N</i>
        <sub style={subStyle}>trap</sub> = {jvNtrap[k]}×10<sup style={supStyle}>15</sup> cm<sup style={supStyle}>-3</sup>
      </div>
      <div>
        <i>μ</i>
        {k === 0 && <sub style={subStyle}>h</sub>} = {jvMu[k]} cm<sup style={supStyle}>2</sup> V<sup style={supStyle}>-1</sup> s<sup style={supStyle}>-1</sup>
      </div>
    </div>
  );
}

export default function App() {
  const jvLeft = [44, 181, 311, 447, 583];
  const jvRight = [143, 280, 410, 546, 680];
  const jvCurrents = [dCurrent, eCurrent, fCurrent, gCurrent, hCurrent];
  const jvFits = [
    [dFitN1, dFitN3, dFitN2],
    [eFitN1, eFitN3, eFitN2],
    [fFitN1, fFitN3, fFitN2],
    [gFitN1, gFitN3, gFitN2],
    [hFitN1, hFitN3, hFitN2],
  ];
  const jvYDist = [20, 23, 23, 23, 26];
  const jvTitleLeft = [47, 183, 314, 450, 586];
  const jvNoteLeft = [53, 187, 321, 456, 593];
  const jvNoteTop = [325, 336, 334, 332, 326];
  const letters: [string, number, number][] = [
    ["a", 22, 30], ["b", 242, 30], ["c", 470, 23],
    ["d", 16, 217], ["e", 152, 217], ["f", 284, 217], ["g", 419, 215], ["h", 555, 217],
    ["i", 21, 425], ["j", 260, 425], ["k", 485, 427],
  ];
  return (
    <div style={{ position: "absolute", left: 0, top: 0, width: 709, height: 599, background: "#fff", overflow: "hidden", fontFamily: FONT }}>
      <PanelA />
      <PanelB />
      <PanelC />
      {jvLeft.map((L, k) => (
        <JVChart key={k} left={L} right={jvRight[k]} current={jvCurrents[k]} fitN1={jvFits[k][0]} fitN3={jvFits[k][1]} fitN2={jvFits[k][2]} yDist={jvYDist[k]} />
      ))}
      <UPSChart
        box={[48, 416, 233, 563, 40]}
        x={iEnergy}
        domain={[2, 4]}
        ticks={iTicks}
        series={[i400, i300, i200, iFlat]}
        colors={["#6cc08a", "#3e7fdc", "#f0505a", "#6e6e6e"]}
        guides={iGuides}
        onsets={iOnsets}
        onsetAt={iOnsetAt}
        xLabel="Binding Energy (eV)"
        yDist={20}
        legendAt={[47, 9]}
        yTicks={Array.from({ length: 14 }, (_, k) => k / 13)}
      />
      <UPSChart
        box={[277, 416, 462, 562, 30]}
        x={jEnergy}
        domain={[16, 18]}
        ticks={jTicks}
        series={[j400, j300, j200, jFlat]}
        colors={["#5ab57a", "#3b7ddd", "#f0555a", "#777777"]}
        guides={jGuides}
        onsets={jOnsets}
        onsetAt={jOnsetAt}
        xLabel="Binging Energy (eV)"
        yDist={13}
        legendAt={[171, 13.5]}
        yTicks={Array.from({ length: 10 }, (_, k) => 0.025 + k * 0.1075)}
      />
      <PanelK />

      {/* grey energy arrow of panel k, drawn last so nothing sits over it */}
      <svg width={16} height={160} style={{ position: "absolute", left: 494, top: 415, zIndex: 5, overflow: "visible" }}>
        <rect x={6} y={14} width={4.5} height={140} fill="#9a9a9a" />
        <polygon points="2,15 14.5,15 8.25,4" fill="#9a9a9a" />
      </svg>

      {letters.map(([t, l, b]) => (
        <Txt key={t} left={l} base={b} size={19}>{t}</Txt>
      ))}
      <Txt left={398} base={42} size={11}>quartz/PVK</Txt>
      {jvTitles.map((t, k) => (
        <Txt key={"jt" + k} left={jvTitleLeft[k]} base={222} size={11}>{chem(t)}</Txt>
      ))}
      {jvNoteLeft.map((l, k) => (
        <JVNotes key={"jn" + k} left={l} top={jvNoteTop[k]} k={k} />
      ))}
    </div>
  );
}
